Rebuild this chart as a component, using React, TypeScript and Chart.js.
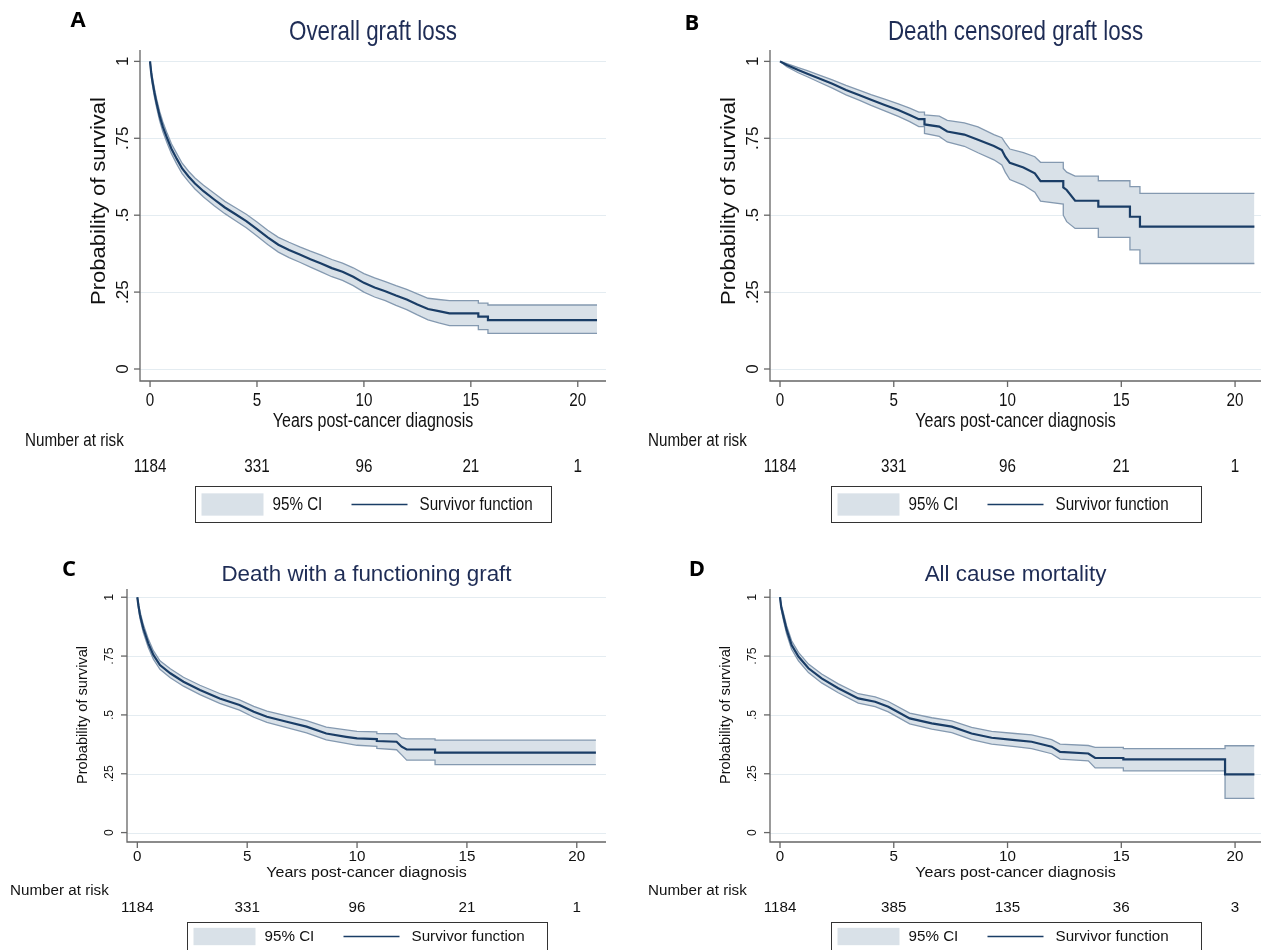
import React, { useEffect, useRef } from "react";
import { Chart, registerables } from "chart.js";

Chart.register(...registerables);

// ---------- shared axis / label data ----------
const xTicks = [0, 5, 10, 15, 20];
const yTicks = [0, 0.25, 0.5, 0.75, 1];
const yTickLabels = ["0", ".25", ".5", ".75", "1"];
const riskTimes = [0, 5, 10, 15, 20];
const xAxisTitle = "Years post-cancer diagnosis";
const yAxisTitle = "Probability of survival";
const riskTitle = "Number at risk";
const legendCI = "95% CI";
const legendSurv = "Survivor function";

// ---------- Panel A: Overall graft loss ----------
const titleA = "Overall graft loss";
const riskA = [1184, 331, 96, 21, 1];
const timeA = [0, 0.05, 0.1, 0.2, 0.3, 0.45, 0.6, 0.8, 1.0, 1.25, 1.5, 1.8, 2.1, 2.5, 3.0, 3.5, 4.0, 4.5, 5.0, 5.5, 6.0, 6.5, 7.0, 7.5, 8.0, 8.5, 9.0, 9.5, 10.0, 10.5, 11.0, 11.5, 12.0, 12.5, 13.0, 13.5, 14.0, 15.35, 15.35, 15.8, 15.8, 20.9];
const survA = [1.0, 0.965, 0.94, 0.9, 0.866, 0.822, 0.787, 0.75, 0.716, 0.683, 0.652, 0.626, 0.603, 0.578, 0.551, 0.525, 0.503, 0.481, 0.455, 0.428, 0.404, 0.387, 0.372, 0.357, 0.343, 0.328, 0.316, 0.3, 0.28, 0.265, 0.253, 0.239, 0.226, 0.21, 0.195, 0.188, 0.181, 0.181, 0.17, 0.17, 0.159, 0.159];
const upperA = [1.0, 0.975, 0.952, 0.914, 0.88, 0.837, 0.803, 0.766, 0.732, 0.7, 0.669, 0.643, 0.621, 0.597, 0.571, 0.545, 0.524, 0.503, 0.478, 0.451, 0.428, 0.412, 0.397, 0.383, 0.37, 0.356, 0.344, 0.329, 0.31, 0.296, 0.284, 0.271, 0.259, 0.244, 0.23, 0.226, 0.222, 0.222, 0.214, 0.214, 0.208, 0.208];
const lowerA = [1.0, 0.955, 0.928, 0.886, 0.852, 0.807, 0.771, 0.734, 0.7, 0.666, 0.635, 0.609, 0.585, 0.559, 0.531, 0.505, 0.482, 0.459, 0.432, 0.405, 0.38, 0.362, 0.347, 0.331, 0.316, 0.3, 0.288, 0.271, 0.25, 0.234, 0.222, 0.207, 0.193, 0.176, 0.16, 0.15, 0.141, 0.141, 0.128, 0.128, 0.116, 0.116];

// ---------- Panel B: Death censored graft loss ----------
const titleB = "Death censored graft loss";
const riskB = [1184, 331, 96, 21, 1];
const timeB = [0, 0.3, 0.8, 1.2, 1.7, 2.3, 2.9, 3.5, 4.0, 4.6, 5.2, 5.7, 6.1, 6.35, 6.35, 7.0, 7.35, 8.1, 8.7, 9.4, 9.75, 9.9, 10.1, 10.7, 11.2, 11.45, 12.45, 12.45, 12.6, 12.97, 13.99, 13.99, 15.38, 15.38, 15.82, 15.82, 20.85];
const survB = [1.0, 0.988, 0.972, 0.96, 0.945, 0.927, 0.907, 0.89, 0.875, 0.858, 0.842, 0.826, 0.812, 0.812, 0.795, 0.788, 0.772, 0.762, 0.745, 0.725, 0.712, 0.69, 0.67, 0.655, 0.636, 0.611, 0.611, 0.59, 0.582, 0.547, 0.547, 0.528, 0.528, 0.495, 0.495, 0.463, 0.463];
const upperB = [1.0, 0.993, 0.98, 0.97, 0.956, 0.94, 0.922, 0.906, 0.892, 0.877, 0.862, 0.848, 0.835, 0.835, 0.826, 0.822, 0.808, 0.8, 0.787, 0.762, 0.752, 0.735, 0.715, 0.703, 0.69, 0.672, 0.672, 0.652, 0.64, 0.627, 0.627, 0.612, 0.612, 0.593, 0.593, 0.571, 0.571];
const lowerB = [1.0, 0.983, 0.963, 0.95, 0.933, 0.913, 0.891, 0.873, 0.857, 0.839, 0.821, 0.804, 0.788, 0.788, 0.766, 0.756, 0.738, 0.724, 0.703, 0.68, 0.663, 0.64, 0.616, 0.598, 0.575, 0.546, 0.536, 0.5, 0.479, 0.457, 0.457, 0.428, 0.428, 0.387, 0.387, 0.343, 0.343];

// ---------- Panel C: Death with a functioning graft ----------
const titleC = "Death with a functioning graft";
const riskC = [1184, 331, 96, 21, 1];
const timeC = [0, 0.05, 0.12, 0.27, 0.5, 0.73, 1.03, 1.5, 2.1, 2.85, 3.75, 4.65, 5.3, 5.9, 6.8, 7.7, 8.6, 9.5, 10.0, 10.9, 10.9, 11.8, 12.03, 12.26, 13.55, 13.55, 20.87];
const survC = [1.0, 0.965, 0.925, 0.868, 0.804, 0.755, 0.712, 0.677, 0.641, 0.606, 0.57, 0.542, 0.513, 0.492, 0.471, 0.45, 0.421, 0.407, 0.4, 0.397, 0.389, 0.386, 0.365, 0.353, 0.353, 0.34, 0.34];
const upperC = [1.0, 0.975, 0.94, 0.885, 0.822, 0.773, 0.73, 0.696, 0.66, 0.626, 0.591, 0.564, 0.536, 0.516, 0.496, 0.476, 0.448, 0.436, 0.43, 0.428, 0.421, 0.42, 0.402, 0.398, 0.398, 0.393, 0.393];
const lowerC = [1.0, 0.955, 0.91, 0.851, 0.786, 0.737, 0.694, 0.658, 0.622, 0.586, 0.549, 0.52, 0.49, 0.468, 0.446, 0.424, 0.394, 0.379, 0.371, 0.366, 0.358, 0.352, 0.33, 0.308, 0.308, 0.289, 0.289];

// ---------- Panel D: All cause mortality ----------
const titleD = "All cause mortality";
const riskD = [1184, 385, 135, 36, 3];
const timeD = [0, 0.05, 0.15, 0.29, 0.51, 0.81, 1.25, 1.83, 2.56, 3.44, 4.18, 4.76, 5.7, 6.67, 7.55, 8.42, 9.3, 10.33, 11.06, 11.94, 12.31, 13.55, 13.85, 15.09, 15.09, 19.56, 19.56, 20.85];
const survD = [1.0, 0.96, 0.918, 0.862, 0.797, 0.748, 0.698, 0.655, 0.613, 0.57, 0.556, 0.535, 0.485, 0.464, 0.45, 0.421, 0.403, 0.393, 0.386, 0.365, 0.343, 0.336, 0.317, 0.317, 0.311, 0.311, 0.247, 0.247];
const upperD = [1.0, 0.97, 0.933, 0.879, 0.815, 0.766, 0.716, 0.674, 0.632, 0.59, 0.577, 0.557, 0.508, 0.488, 0.475, 0.447, 0.43, 0.421, 0.415, 0.395, 0.376, 0.37, 0.362, 0.362, 0.357, 0.357, 0.369, 0.369];
const lowerD = [1.0, 0.95, 0.903, 0.845, 0.779, 0.73, 0.68, 0.636, 0.594, 0.55, 0.535, 0.513, 0.462, 0.44, 0.425, 0.395, 0.376, 0.365, 0.357, 0.335, 0.312, 0.305, 0.275, 0.275, 0.262, 0.262, 0.145, 0.145];

// ---------- styles ----------
const NAVY = "#1a3d66";
const TITLE_COLOR = "#1e2c55";
const CI_FILL = "#d9e1e8";
const CI_EDGE = "#8499b0";
const GRID = "#e4ecf1";
const AXIS = "#666666";
const FONT = "'Liberation Sans', Arial, sans-serif";

type PanelCfg = {
  letter: string;
  title: string;
  times: number[];
  surv: number[];
  upper: number[];
  lower: number[];
  risk: number[];
  left: number;
  top: number;
  width: number;
  height: number;
  pad: { left: number; right: number; top: number; bottom: number };
  xMin: number;
  xMax: number;
  yMin: number;
  yMax: number;
  sy: number;
  rotSx: number;
  yTickSize: number;
  titleSize: number;
  titleY: number;
  yTitleSize: number;
  yTitleY: number;
  yTitleDx: number;
  yTickDx: number;
  xTickY: number;
  xTitleY: number;
  riskLabelX: number;
  riskLabelY: number;
  riskY: number;
  legendTop: number;
  legendH: number;
  legendW: number;
  letterX: number;
  letterY: number;
};

const SX = 0.8;

const panels: PanelCfg[] = [
  {
    letter: "A", title: titleA, times: timeA, surv: survA, upper: upperA, lower: lowerA, risk: riskA,
    left: 0, top: 0, width: 630, height: 530,
    pad: { left: 140, right: 24, top: 50, bottom: 149 },
    xMin: -0.47, xMax: 21.32, yMin: -0.039, yMax: 1.037, sy: 1, rotSx: 0.95, yTickSize: 17,
    titleSize: 28, titleY: 32, yTitleSize: 22, yTitleY: 201, yTitleDx: 41, yTickDx: 16,
    xTickY: 401, xTitleY: 421, riskLabelX: 25, riskLabelY: 441, riskY: 467,
    legendTop: 486, legendH: 36, legendW: 356, letterX: 78, letterY: 21,
  },
  {
    letter: "B", title: titleB, times: timeB, surv: survB, upper: upperB, lower: lowerB, risk: riskB,
    left: 630, top: 0, width: 631, height: 530,
    pad: { left: 140, right: 0, top: 50, bottom: 149 },
    xMin: -0.44, xMax: 21.14, yMin: -0.039, yMax: 1.037, sy: 1, rotSx: 0.95, yTickSize: 17,
    titleSize: 28, titleY: 32, yTitleSize: 22, yTitleY: 201, yTitleDx: 41, yTickDx: 16,
    xTickY: 401, xTitleY: 421, riskLabelX: 18, riskLabelY: 441, riskY: 467,
    legendTop: 486, legendH: 36, legendW: 370, letterX: 62, letterY: 24,
  },
  {
    letter: "C", title: titleC, times: timeC, surv: survC, upper: upperC, lower: lowerC, risk: riskC,
    left: 0, top: 475, width: 630, height: 475,
    pad: { left: 127, right: 24, top: 114, bottom: 108 },
    xMin: -0.47, xMax: 21.33, yMin: -0.04, yMax: 1.035, sy: 0.77, rotSx: 0.8, yTickSize: 16,
    titleSize: 28, titleY: 100, yTitleSize: 19, yTitleY: 240, yTitleDx: 44, yTickDx: 18,
    xTickY: 382, xTitleY: 398, riskLabelX: 10, riskLabelY: 416, riskY: 433,
    legendTop: 447, legendH: 28, legendW: 360, letterX: 69, letterY: 95,
  },
  {
    letter: "D", title: titleD, times: timeD, surv: survD, upper: upperD, lower: lowerD, risk: riskD,
    left: 630, top: 475, width: 631, height: 475,
    pad: { left: 140, right: 0, top: 114, bottom: 108 },
    xMin: -0.44, xMax: 21.14, yMin: -0.04, yMax: 1.035, sy: 0.77, rotSx: 0.8, yTickSize: 16,
    titleSize: 28, titleY: 100, yTitleSize: 19, yTitleY: 240, yTitleDx: 44, yTickDx: 18,
    xTickY: 382, xTitleY: 398, riskLabelX: 18, riskLabelY: 416, riskY: 433,
    legendTop: 447, legendH: 28, legendW: 370, letterX: 67, letterY: 95,
  },
];

function drawText(
  ctx: CanvasRenderingContext2D,
  s: string,
  x: number,
  y: number,
  size: number,
  sx: number,
  sy: number,
  align: CanvasTextAlign,
  rotate: boolean,
  color: string,
  weight = "normal",
  family = FONT
) {
  ctx.save();
  ctx.translate(x, y);
  ctx.scale(sx, sy);
  if (rotate) ctx.rotate(-Math.PI / 2);
  ctx.font = `${weight} ${size}px ${family}`;
  ctx.textAlign = align;
  ctx.textBaseline = "middle";
  ctx.fillStyle = color;
  ctx.fillText(s, 0, 0);
  ctx.restore();
}

function makePlugin(p: PanelCfg) {
  return {
    id: "stataPanel" + p.letter,
    beforeDraw(chart: any) {
      const ctx: CanvasRenderingContext2D = chart.ctx;
      const a = chart.chartArea;
      const ys = chart.scales.y;
      ctx.save();
      ctx.strokeStyle = GRID;
      ctx.lineWidth = 1.2;
      yTicks.forEach((v) => {
        const py = Math.round(ys.getPixelForValue(v)) + 0.5;
        ctx.beginPath();
        ctx.moveTo(a.left, py);
        ctx.lineTo(a.right, py);
        ctx.stroke();
      });
      ctx.restore();
    },
    afterDraw(chart: any) {
      const ctx: CanvasRenderingContext2D = chart.ctx;
      const a = chart.chartArea;
      const xs = chart.scales.x;
      const ys = chart.scales.y;
      const sy = p.sy;
      const cx = (a.left + a.right) / 2;
      ctx.save();
      ctx.strokeStyle = AXIS;
      ctx.lineWidth = 1.3;
      ctx.beginPath();
      ctx.moveTo(a.left, a.top);
      ctx.lineTo(a.left, a.bottom);
      ctx.lineTo(a.right, a.bottom);
      ctx.stroke();
      yTicks.forEach((v) => {
        const py = ys.getPixelForValue(v);
        ctx.beginPath();
        ctx.moveTo(a.left - 6, py);
        ctx.lineTo(a.left, py);
        ctx.stroke();
      });
      xTicks.forEach((v) => {
        const px = xs.getPixelForValue(v);
        ctx.beginPath();
        ctx.moveTo(px, a.bottom);
        ctx.lineTo(px, a.bottom + 6);
        ctx.stroke();
      });
      ctx.restore();

      yTicks.forEach((v, i) => {
        drawText(ctx, yTickLabels[i], a.left - p.yTickDx, ys.getPixelForValue(v), p.yTickSize, p.rotSx, sy, "center", true, "#111");
      });
      drawText(ctx, yAxisTitle, a.left - p.yTitleDx, p.yTitleY, p.yTitleSize, p.rotSx, sy, "center", true, "#111");
      xTicks.forEach((v) => {
        drawText(ctx, String(v), xs.getPixelForValue(v), p.xTickY, 19, SX, sy, "center", false, "#111");
      });
      drawText(ctx, xAxisTitle, cx, p.xTitleY, 20, SX, sy, "center", false, "#111");
      drawText(ctx, p.title, cx, p.titleY, p.titleSize, SX, sy, "center", false, TITLE_COLOR);
      drawText(ctx, riskTitle, p.riskLabelX, p.riskLabelY, 19, SX, sy, "left", false, "#111");
      riskTimes.forEach((t, i) => {
        drawText(ctx, String(p.risk[i]), xs.getPixelForValue(t), p.riskY, 19, SX, sy, "center", false, "#111");
      });
      // legend
      const lw = p.legendW;
      const lx = Math.round(cx - lw / 2) + 0.5;
      const ly = p.legendTop + 0.5;
      const lh = p.legendH;
      const midY = ly + lh / 2;
      ctx.save();
      ctx.fillStyle = "#ffffff";
      ctx.fillRect(lx, ly, lw, lh);
      ctx.strokeStyle = "#333";
      ctx.lineWidth = 1;
      ctx.strokeRect(lx, ly, lw, lh);
      const swH = lh * 0.62;
      ctx.fillStyle = CI_FILL;
      ctx.fillRect(lx + 6, midY - swH / 2, 62, swH);
      ctx.strokeStyle = NAVY;
      ctx.lineWidth = 1.5;
      ctx.beginPath();
      ctx.moveTo(lx + 156, midY);
      ctx.lineTo(lx + 212, midY);
      ctx.stroke();
      ctx.restore();
      drawText(ctx, legendCI, lx + 77, midY, 19, SX, sy, "left", false, "#111");
      drawText(ctx, legendSurv, lx + 224, midY, 19, SX, sy, "left", false, "#111");
      drawText(ctx, p.letter, p.letterX, p.letterY, 22, 1, 1, "center", false, "#000", "bold", "'Open Sans', 'Liberation Sans', sans-serif");
    },
  };
}

function pts(xs: number[], ys: number[]) {
  return xs.map((x, i) => ({ x, y: ys[i] }));
}

function Panel({ p }: { p: PanelCfg }) {
  const ref = useRef<HTMLCanvasElement | null>(null);
  useEffect(() => {
    if (!ref.current) return;
    const chart = new Chart(ref.current, {
      type: "line",
      data: {
        datasets: [
          { data: pts(p.times, p.surv), borderColor: NAVY, borderWidth: 2.2, pointRadius: 0, fill: false, tension: 0 },
          { data: pts(p.times, p.upper), borderColor: CI_EDGE, borderWidth: 1.3, pointRadius: 0, fill: "+1", backgroundColor: CI_FILL, tension: 0 },
          { data: pts(p.times, p.lower), borderColor: CI_EDGE, borderWidth: 1.3, pointRadius: 0, fill: false, tension: 0 },
        ],
      },
      options: {
        animation: false,
        responsive: false,
        maintainAspectRatio: false,
        events: [],
        layout: { padding: p.pad },
        scales: {
          x: { type: "linear", display: false, min: p.xMin, max: p.xMax },
          y: { type: "linear", display: false, min: p.yMin, max: p.yMax },
        },
        plugins: {
          legend: { display: false },
          tooltip: { enabled: false },
          filler: { drawTime: "beforeDatasetsDraw" },
        },
      } as any,
      plugins: [makePlugin(p)],
    });
    return () => chart.destroy();
  }, [p]);
  return (
    <canvas
      ref={ref}
      width={p.width}
      height={p.height}
      style={{ position: "absolute", left: p.left, top: p.top, width: p.width, height: p.height }}
    />
  );
}

export default function App() {
  return (
    <div style={{ position: "absolute", left: 0, top: 0, width: 1261, height: 950, background: "#fff", overflow: "hidden" }}>
      {panels.map((p) => (
        <Panel key={p.letter} p={p} />
      ))}
    </div>
  );
}
